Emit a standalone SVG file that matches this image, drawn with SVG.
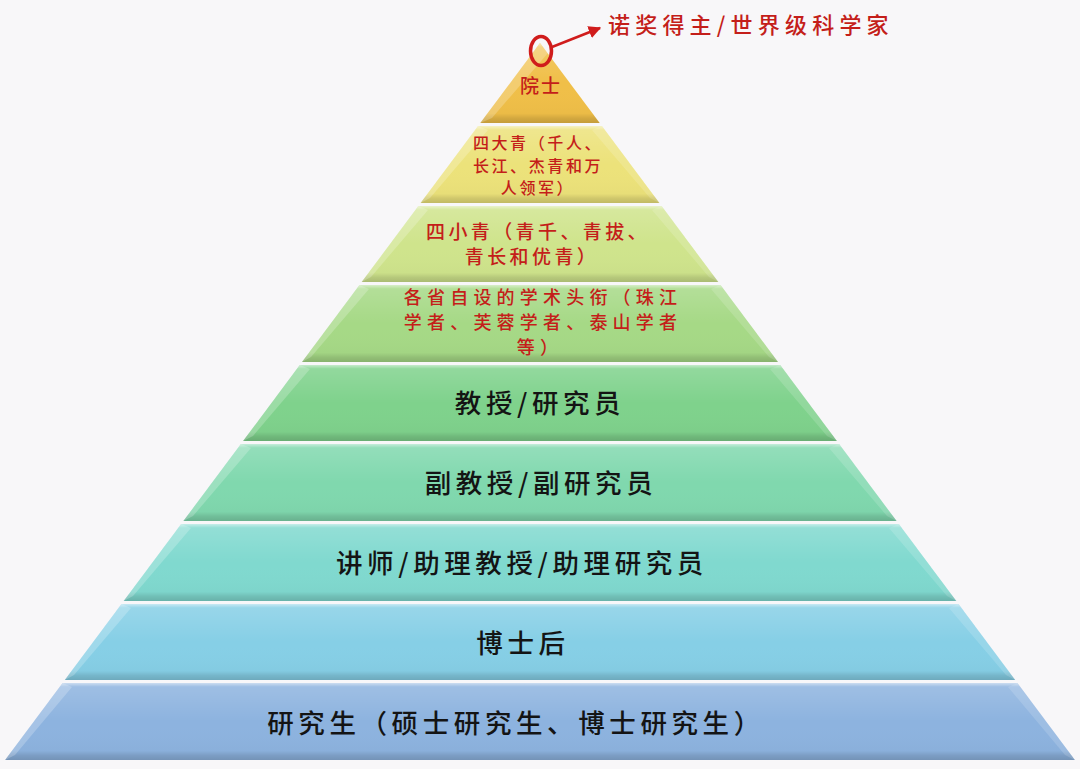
<svg xmlns="http://www.w3.org/2000/svg" width="1080" height="769" viewBox="0 0 1080 769">
<defs>
<linearGradient id="bevel" x1="0" y1="0" x2="0" y2="1">
<stop offset="0" stop-color="#fff" stop-opacity="0.55"/>
<stop offset="0.05" stop-color="#fff" stop-opacity="0.15"/>
<stop offset="0.5" stop-color="#fff" stop-opacity="0"/>
<stop offset="0.88" stop-color="#000" stop-opacity="0.02"/>
<stop offset="0.94" stop-color="#000" stop-opacity="0.12"/>
<stop offset="1" stop-color="#000" stop-opacity="0.18"/>
</linearGradient>
<marker id="arr" viewBox="0 0 10 10" refX="9" refY="5" markerWidth="5" markerHeight="5" orient="auto" markerUnits="strokeWidth">
<path d="M0,0 L10,5 L0,10 z" fill="#d01c1c"/>
</marker>
</defs>
<style>
.ov{fill:url(#bevel)}
.fl{fill:#fff;fill-opacity:0.22}
.fr{fill:#fff;fill-opacity:0.15}
.red{fill:#c41e1a;font-family:"Noto Sans CJK SC","Noto Sans",sans-serif;font-weight:500;text-anchor:middle}
.blk{fill:#141414;font-family:"Noto Sans CJK SC","Noto Sans",sans-serif;font-weight:500;text-anchor:middle;font-size:26.5px;letter-spacing:4.6px}
</style>
<rect width="1080" height="769" fill="#f8f7f9"/>

<g id="layer-yuanshi">
<polygon points="540,43 599.7,123 480.3,123" fill="#f0bf48"/>
<polygon points="540,43 599.7,123 480.3,123" class="ov"/>
<polygon points="540,43 548,53 492,118 480.3,123" class="fl"/>
<text class="red" x="541" y="93" font-size="19" letter-spacing="2">院士</text>
</g>

<g id="layer-sidaqing">
<polygon points="478.1,126 601.9,126 659.4,203 420.6,203" fill="#ece27a"/>
<polygon points="478.1,126 601.9,126 659.4,203 420.6,203" class="ov"/>
<polygon points="478.1,126 488,130 430,198 420.6,203" class="fl"/>
<polygon points="601.9,126 592,130 650,198 659.4,203" class="fr"/>
<text class="red" font-size="16" letter-spacing="2.6"><tspan x="538" y="149">四大青（千人、</tspan><tspan x="538" y="172">长江、杰青和万</tspan><tspan x="538" y="194">人领军）</tspan></text>
</g>

<g id="layer-sixiaoqing">
<polygon points="418.4,206 661.6,206 718.3,282 361.7,282" fill="#cfe48c"/>
<polygon points="418.4,206 661.6,206 718.3,282 361.7,282" class="ov"/>
<polygon points="418.4,206 428,210 371,277 361.7,282" class="fl"/>
<polygon points="661.6,206 652,210 709,277 718.3,282" class="fr"/>
<text class="red" font-size="19" letter-spacing="3.4"><tspan x="538" y="239">四小青（青千、青拔、</tspan><tspan x="532" y="264">青长和优青）</tspan></text>
</g>

<g id="layer-shengji">
<polygon points="359.5,285 720.5,285 778,362 302,362" fill="#a6d986"/>
<polygon points="359.5,285 720.5,285 778,362 302,362" class="ov"/>
<polygon points="359.5,285 369,289 311,357 302,362" class="fl"/>
<polygon points="720.5,285 711,289 769,357 778,362" class="fr"/>
<text class="red" font-size="18" letter-spacing="5.2"><tspan x="543" y="304">各省自设的学术头衔（珠江</tspan><tspan x="543" y="329">学者、芙蓉学者、泰山学者</tspan><tspan x="540" y="354">等）</tspan></text>
</g>

<g id="layer-jiaoshou">
<polygon points="299.8,365 780.2,365 836.9,441 243.1,441" fill="#7fd28c"/>
<polygon points="299.8,365 780.2,365 836.9,441 243.1,441" class="ov"/>
<polygon points="299.8,365 310,369 253,436 243.1,441" class="fl"/>
<polygon points="780.2,365 770,369 827,436 836.9,441" class="fr"/>
<text class="blk" x="540" y="413">教授/研究员</text>
</g>

<g id="layer-fujiaoshou">
<polygon points="240.9,444 839.1,444 896.6,521 183.4,521" fill="#80d8ae"/>
<polygon points="240.9,444 839.1,444 896.6,521 183.4,521" class="ov"/>
<polygon points="240.9,444 251,448 193,516 183.4,521" class="fl"/>
<polygon points="839.1,444 829,448 887,516 896.6,521" class="fr"/>
<text class="blk" x="541" y="493">副教授/副研究员</text>
</g>

<g id="layer-jiangshi">
<polygon points="181.2,524 898.8,524 956.3,601 123.7,601" fill="#80d9cf"/>
<polygon points="181.2,524 898.8,524 956.3,601 123.7,601" class="ov"/>
<polygon points="181.2,524 191,528 133,596 123.7,601" class="fl"/>
<polygon points="898.8,524 889,528 947,596 956.3,601" class="fr"/>
<text class="blk" x="522" y="573">讲师/助理教授/助理研究员</text>
</g>

<g id="layer-boshihou">
<polygon points="121.5,604 958.5,604 1015.2,680 64.8,680" fill="#86cfe6"/>
<polygon points="121.5,604 958.5,604 1015.2,680 64.8,680" class="ov"/>
<polygon points="121.5,604 131,608 74,675 64.8,680" class="fl"/>
<polygon points="958.5,604 949,608 1006,675 1015.2,680" class="fr"/>
<text class="blk" x="523" y="653">博士后</text>
</g>

<g id="layer-yanjiusheng">
<polygon points="62.6,683 1017.4,683 1074.9,760 5.1,760" fill="#8db3df"/>
<polygon points="62.6,683 1017.4,683 1074.9,760 5.1,760" class="ov"/>
<polygon points="62.6,683 72,687 15,755 5.1,760" class="fl"/>
<polygon points="1017.4,683 1008,687 1065,755 1074.9,760" class="fr"/>
<text class="blk" x="516" y="733">研究生（硕士研究生、博士研究生）</text>
</g>

<g id="callout">
<text x="608" y="33" fill="#c41e1a" font-family="'Noto Sans CJK SC','Noto Sans',sans-serif" font-weight="500" font-size="22" letter-spacing="5.2">诺奖得主/世界级科学家</text>
</g>

<g id="connectors">
<ellipse cx="541" cy="51" rx="10.5" ry="14.5" fill="none" stroke="#d01c1c" stroke-width="3.5"/>
<line x1="552" y1="47" x2="600" y2="28" stroke="#d01c1c" stroke-width="2.5" marker-end="url(#arr)"/>
</g>
</svg>
